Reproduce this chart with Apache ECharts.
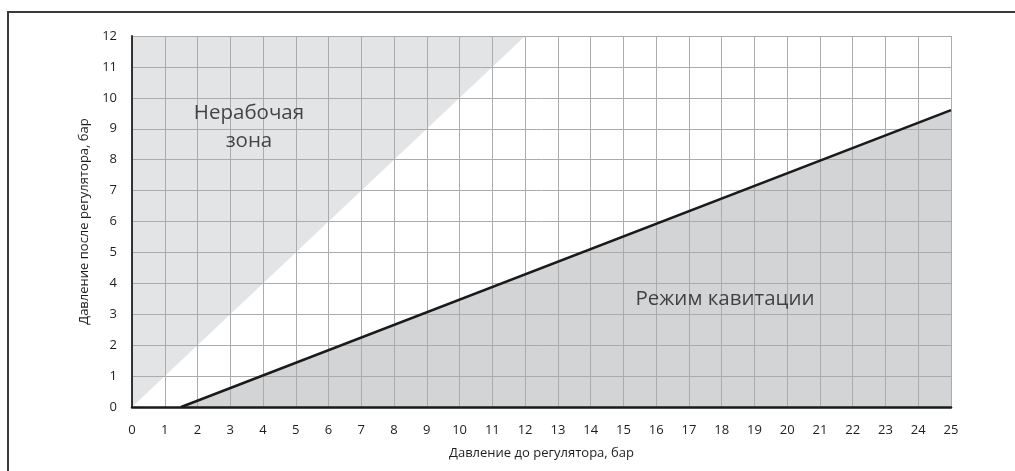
<!DOCTYPE html>
<html>
<head>
<meta charset="utf-8">
<script src="https://cdn.jsdelivr.net/npm/echarts@6/dist/echarts.min.js"></script>
<style>
html,body{margin:0;padding:0;background:#fff;}
#chart{width:1015px;height:471px;}
</style>
</head>
<body>
<div id="chart"></div>
<script>
// Data
var xAxisName = 'Давление до регулятора, бар';
var yAxisName = 'Давление после регулятора, бар';
var nonWorkingBoundary = [[0, 0], [12, 12]];     // line y = x, area above it
var cavitationBoundary = [[1.5, 0], [25, 9.6]];  // cavitation limit line, area below it
var zoneLabels = [
  {name: 'Нерабочая\nзона', value: [3.57, 9.05]},
  {name: 'Режим кавитации', value: [18.1, 3.49]}
];
var xMin = 0, xMax = 25, yMin = 0, yMax = 12;

var chart = echarts.init(document.getElementById('chart'), null, {renderer: 'canvas'});
var font = '"Open Sans", "Noto Sans", sans-serif';
chart.setOption({
  animation: false,
  backgroundColor: '#fff',
  textStyle: {fontFamily: font},
  graphic: [{
    type: 'rect',
    shape: {x: 8, y: 12, width: 2000, height: 2000},
    style: {fill: null, stroke: '#3a3a3a', lineWidth: 2},
    silent: true
  }],
  grid: {left: 132, right: 64, top: 36, bottom: 64},
  xAxis: {
    type: 'value', min: xMin, max: xMax, interval: 1, z: 3,
    name: xAxisName, nameLocation: 'middle', nameGap: 40,
    nameTextStyle: {fontSize: 13, color: '#1e1e1e', fontFamily: font},
    axisLine: {show: true, onZero: false, lineStyle: {color: '#1a1a1a', width: 2.5}},
    axisTick: {show: false},
    axisLabel: {fontSize: 13, color: '#1e1e1e', margin: 17, fontFamily: font},
    splitLine: {show: true, lineStyle: {color: '#ababab', width: 1}}
  },
  yAxis: {
    type: 'value', min: yMin, max: yMax, interval: 1, z: 3,
    name: yAxisName, nameLocation: 'middle', nameGap: 37,
    nameTextStyle: {fontSize: 13, color: '#1e1e1e', fontFamily: font},
    axisLine: {show: true, onZero: false, lineStyle: {color: '#222', width: 1.8}},
    axisTick: {show: false},
    axisLabel: {fontSize: 13, color: '#1e1e1e', margin: 15, fontFamily: font},
    splitLine: {show: true, lineStyle: {color: '#ababab', width: 1}}
  },
  series: [
    {
      type: 'line', data: nonWorkingBoundary, symbol: 'none', z: 1,
      lineStyle: {width: 0, opacity: 0},
      areaStyle: {color: '#e3e4e6', opacity: 1, origin: 'end'}
    },
    {
      type: 'line', data: cavitationBoundary, symbol: 'none', z: 1,
      lineStyle: {width: 0, opacity: 0},
      areaStyle: {color: '#d3d4d6', opacity: 1, origin: 'start'}
    },
    {
      type: 'line', data: cavitationBoundary, symbol: 'none', z: 5,
      lineStyle: {width: 2.5, color: '#1a1a1a'}
    },
    {
      type: 'scatter', data: zoneLabels, symbolSize: 0, z: 6,
      label: {
        show: true, position: 'inside', formatter: '{b}',
        fontSize: 20.5, lineHeight: 28, color: '#1a1a1a', fontFamily: font, align: 'center'
      }
    }
  ]
});
</script>
</body>
</html>
